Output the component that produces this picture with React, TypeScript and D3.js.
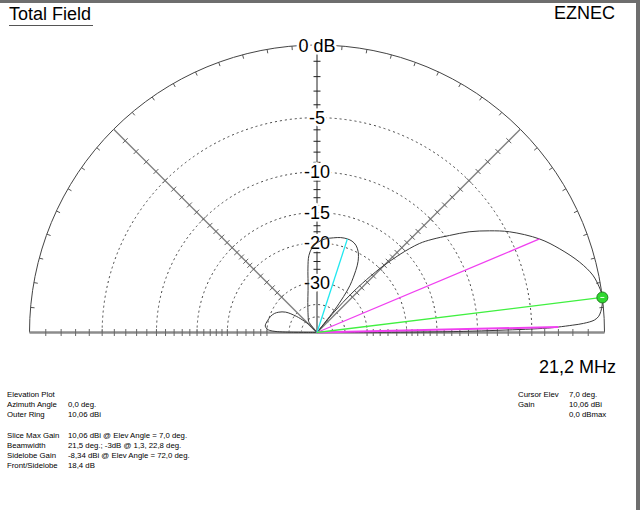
import React from "react";
import * as d3 from "d3";

// ---- data (elevation deg, gain dB relative to outer ring = 10.06 dBi) ----
const patternElev = [
  0, 0.25, 0.5, 0.75, 0.93, 1.15, 1.3, 1.65, 1.95, 2.56, 3.3, 4.2, 5.5, 7, 8, 9.2, 11.75, 15, 19, 22.8,
  27.6, 30.5, 33.5, 36.2, 39, 41, 43.3, 45.5, 47.3, 48.6, 50, 51, 52, 53.5, 55, 58, 60, 63, 66, 69, 72,
  76, 80, 85, 89, 93, 96, 98, 100, 102, 107, 114, 120, 127, 132, 136, 138, 142, 147, 152, 156, 161, 166,
  170, 173, 176, 177.5, 178.5, 179.3, 180,
];
const patternDb = [
  -99, -16, -10.5, -7.2, -5.0, -3.5, -3.0, -2.0, -1.3, -0.6, -0.32, -0.18, -0.06, 0, -0.02, -0.1, -0.35,
  -0.96, -1.94, -3.0, -4.8, -6.2, -7.8, -9.6, -11.4, -12.9, -15.9, -20, -25, -30, -40, -99, -40, -32,
  -27.6, -23.5, -21.5, -19.8, -18.9, -18.5, -18.4, -18.5, -18.8, -19.2, -19.8, -20.8, -22.5, -25.5, -29.5,
  -32.6, -38, -44, -48, -52, -99, -55, -49, -41, -35, -32.5, -31.2, -30.3, -29.8, -29.4, -29.3, -30, -31,
  -33, -38, -99,
];

const ringDb = [-5, -10, -15, -20, -30, -40, -50];
const ringLabelDb = [0, -5, -10, -15, -20, -30];
const ringLabels = ["0 dB", "-5", "-10", "-15", "-20", "-30"];
const tickDb = [
  -1, -2, -3, -4, -5, -6, -7, -8, -9, -10, -11, -12, -13, -14, -15, -16, -17, -18, -19, -20, -22, -24,
  -26, -28, -30,
];

const maxElev = 7.0;
const bwElevs = [1.3, 22.8];
const bwDb = -3.0;
const sideElev = 72.0;
const sideDb = -18.4;

const infoLeftLabels = ["Elevation Plot", "Azimuth Angle", "Outer Ring", "", "Slice Max Gain", "Beamwidth", "Sidelobe Gain", "Front/Sidelobe"];
const infoLeftValues = ["", "0,0 deg.", "10,06 dBi", "", "10,06 dBi @ Elev Angle = 7,0 deg.", "21,5 deg.; -3dB @ 1,3, 22,8 deg.", "-8,34 dBi @ Elev Angle = 72,0 deg.", "18,4 dB"];
const infoRightLabels = ["Cursor Elev", "Gain", ""];
const infoRightValues = ["7,0 deg.", "10,06 dBi", "0,0 dBmax"];

const W = 640;
const H = 510;
const cx = 317;
const cy = 332.5;
const R = 287.5;
const FONT = "'Liberation Sans', Arial, sans-serif";

// ARRL log scale: r = R * 0.89^(-dB/2)  ==  power scale on linear power ratio
const powScale = d3.scalePow().exponent(-5 * Math.log10(0.89)).domain([0, 1]).range([0, R]);
const rOf = (db: number) => powScale(Math.pow(10, db / 10));
const rad = (deg: number) => (deg * Math.PI) / 180;
const pt = (elev: number, r: number): [number, number] => [cx + r * Math.cos(rad(elev)), cy - r * Math.sin(rad(elev))];

export default function App() {
  const patternData = patternElev.map((e, i) => ({ e, db: patternDb[i] }));
  const line = d3
    .lineRadial<{ e: number; db: number }>()
    .angle((d) => rad(90 - d.e))
    .radius((d) => rOf(d.db))
    .curve(d3.curveCatmullRom.alpha(0.5));
  const patternPath = line(patternData) || "";

  const arc = (r: number) => `M${cx - r},${cy} A${r},${r} 0 0 1 ${cx + r},${cy}`;

  const outerTicks = d3.range(5, 180, 5).filter((a) => a % 45 !== 0);
  const [gx, gy] = pt(maxElev, rOf(0));

  const axisTicks: JSX.Element[] = [];
  const axisAngles = [0, 45, 90, 135, 180];
  axisAngles.forEach((ang) => {
    tickDb.forEach((db) => {
      const r = rOf(db);
      const [x, y] = pt(ang, r);
      const nx = -Math.sin(rad(ang));
      const ny = -Math.cos(rad(ang));
      axisTicks.push(
        <line key={`t${ang}_${db}`} x1={x - nx * 3.5} y1={y - ny * 3.5} x2={x + nx * 3.5} y2={y + ny * 3.5}
          stroke={ang === 90 ? "#222" : "#666"} strokeWidth={1} />
      );
    });
  });

  return (
    <svg width={W} height={H} style={{ position: "absolute", left: 0, top: 0, background: "#fff" }} fontFamily={FONT}>
      <rect x={0} y={0} width={W} height={H} fill="#fff" />
      {/* window edges */}
      <rect x={0} y={0} width={W} height={3} fill="#6e6e6e" />
      <rect x={636} y={0} width={4} height={H} fill="#6e6e6e" />

      {/* title */}
      <text x={9} y={20} fontSize={18} fill="#000">Total Field</text>
      <line x1={9} y1={25.5} x2={93} y2={25.5} stroke="#555" strokeWidth={1} />
      <text x={615} y={19} fontSize={18} fill="#000" textAnchor="end">EZNEC</text>

      {/* dashed rings */}
      {ringDb.map((db) => (
        <path key={`r${db}`} d={arc(rOf(db))} fill="none" stroke="#444" strokeWidth={1} strokeDasharray="2,3" />
      ))}
      {/* outer ring */}
      <path d={arc(R)} fill="none" stroke="#444" strokeWidth={1} />
      {outerTicks.map((a) => {
        const [x1, y1] = pt(a, R);
        const [x2, y2] = pt(a, R - 4);
        return <line key={`o${a}`} x1={x1} y1={y1} x2={x2} y2={y2} stroke="#555" strokeWidth={1} />;
      })}

      {/* diagonal axes */}
      {[45, 135].map((a) => {
        const [x, y] = pt(a, R);
        return <line key={`d${a}`} x1={cx} y1={cy} x2={x} y2={y} stroke="#808080" strokeWidth={1.4} />;
      })}
      {/* vertical axis */}
      <line x1={cx} y1={cy} x2={cx} y2={cy - R} stroke="#222" strokeWidth={1} />
      {/* baseline */}
      <line x1={cx - R} y1={cy} x2={cx + R} y2={cy} stroke="#8c8c8c" strokeWidth={2.5} />
      {axisTicks}

      {/* ring labels */}
      {ringLabelDb.map((db, i) => (
        <text key={`l${db}`} x={cx} y={cy - rOf(db) + 6.5} fontSize={18} textAnchor="middle" fill="#000"
          stroke="#fff" strokeWidth={5} paintOrder="stroke">{ringLabels[i]}</text>
      ))}

      {/* pattern */}
      <path d={patternPath} transform={`translate(${cx},${cy})`} fill="none" stroke="#3a3a3a" strokeWidth={1} />

      {/* cursor / beamwidth / sidelobe lines */}
      {bwElevs.map((e) => {
        const [x, y] = pt(e, rOf(bwDb));
        return <line key={`bw${e}`} x1={cx} y1={cy} x2={x} y2={y} stroke="#f040f0" strokeWidth={e < 5 ? 2 : 1.3} />;
      })}
      {(() => {
        const [x, y] = pt(sideElev, rOf(sideDb));
        return <line x1={cx} y1={cy} x2={x} y2={y} stroke="#20e8f0" strokeWidth={1.3} />;
      })()}
      <line x1={cx} y1={cy} x2={gx} y2={gy} stroke="#40f040" strokeWidth={1.3} />
      <circle cx={gx} cy={gy} r={5.5} fill="#30d830" stroke="#1f7f1f" strokeWidth={1} />
      <line x1={gx - 2} y1={gy} x2={gx + 2} y2={gy} stroke="#e8ffe8" strokeWidth={1} />

      {/* frequency */}
      <text x={616} y={373} fontSize={18} textAnchor="end" fill="#000">21,2 MHz</text>

      {/* info text */}
      {infoLeftLabels.map((t, i) => (
        <text key={`il${i}`} x={7} y={396.7 + i * 10.25} fontSize={7.8} fill="#000">{t}</text>
      ))}
      {infoLeftValues.map((t, i) => (
        <text key={`iv${i}`} x={68} y={396.7 + i * 10.25} fontSize={7.8} fill="#000">{t}</text>
      ))}
      {infoRightLabels.map((t, i) => (
        <text key={`rl${i}`} x={518} y={396.7 + i * 10.25} fontSize={7.8} fill="#000">{t}</text>
      ))}
      {infoRightValues.map((t, i) => (
        <text key={`rv${i}`} x={569} y={396.7 + i * 10.25} fontSize={7.8} fill="#000">{t}</text>
      ))}
    </svg>
  );
}
